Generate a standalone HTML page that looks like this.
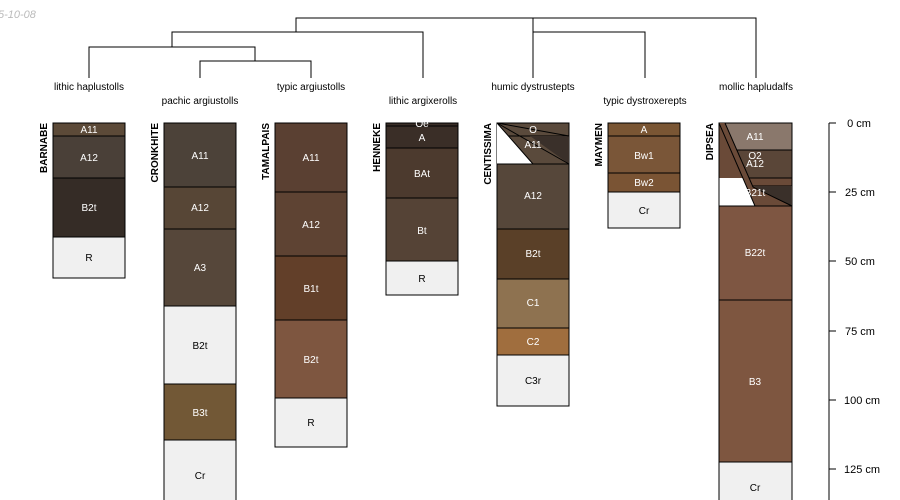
<!DOCTYPE html>
<html><head><meta charset="utf-8"><style>
html,body{margin:0;padding:0;background:#fff;width:900px;height:500px;overflow:hidden}
svg{display:block;font-family:"Liberation Sans",sans-serif}
.h{fill:#fff;font-size:10px;text-anchor:middle}
.k{fill:#000;font-size:10px;text-anchor:middle}
.n{font-size:10px;font-weight:bold;fill:#000}
.t{font-size:10px;fill:#000;text-anchor:middle}
rect{stroke:#000;stroke-width:1}
</style></head><body>
<svg width="900" height="500" viewBox="0 0 900 500">
<text x="-2" y="18" font-size="11" font-style="italic" fill="#bbb">5-10-08</text>
<g stroke="#000" fill="none" stroke-width="1">
<path d="M296 32V18H756V78M533 18V32M172 47V32H423V78M89 78V47H255V61M200 78V61H311V78M533 78V32H645V78"/>
</g>
<text class="t" x="89" y="90">lithic haplustolls</text>
<text class="t" x="200" y="104">pachic argiustolls</text>
<text class="t" x="311" y="90">typic argiustolls</text>
<text class="t" x="423" y="104">lithic argixerolls</text>
<text class="t" x="533" y="90">humic dystrustepts</text>
<text class="t" x="645" y="104">typic dystroxerepts</text>
<text class="t" x="756" y="90">mollic hapludalfs</text>

<!-- BARNABE -->
<text class="n" transform="translate(47,123) rotate(-90)" text-anchor="end">BARNABE</text>
<rect x="53" y="123" width="72" height="13" fill="#5c4a38"/><text class="h" x="89" y="133">A11</text>
<rect x="53" y="136" width="72" height="42" fill="#4a4038"/><text class="h" x="89" y="161">A12</text>
<rect x="53" y="178" width="72" height="59" fill="#352c26"/><text class="h" x="89" y="211">B2t</text>
<rect x="53" y="237" width="72" height="41" fill="#f0f0f0"/><text class="k" x="89" y="261">R</text>

<!-- CRONKHITE -->
<text class="n" transform="translate(158,123) rotate(-90)" text-anchor="end">CRONKHITE</text>
<rect x="164" y="123" width="72" height="64" fill="#4c4239"/><text class="h" x="200" y="159">A11</text>
<rect x="164" y="187" width="72" height="42" fill="#574636"/><text class="h" x="200" y="211">A12</text>
<rect x="164" y="229" width="72" height="77" fill="#56473a"/><text class="h" x="200" y="271">A3</text>
<rect x="164" y="306" width="72" height="78" fill="#f0f0f0"/><text class="k" x="200" y="349">B2t</text>
<rect x="164" y="384" width="72" height="56" fill="#725836"/><text class="h" x="200" y="416">B3t</text>
<rect x="164" y="440" width="72" height="70" fill="#f0f0f0"/><text class="k" x="200" y="479">Cr</text>

<!-- TAMALPAIS -->
<text class="n" transform="translate(269,123) rotate(-90)" text-anchor="end">TAMALPAIS</text>
<rect x="275" y="123" width="72" height="69" fill="#5a4032"/><text class="h" x="311" y="161">A11</text>
<rect x="275" y="192" width="72" height="64" fill="#5e4333"/><text class="h" x="311" y="228">A12</text>
<rect x="275" y="256" width="72" height="64" fill="#623f29"/><text class="h" x="311" y="292">B1t</text>
<rect x="275" y="320" width="72" height="78" fill="#7e5640"/><text class="h" x="311" y="363">B2t</text>
<rect x="275" y="398" width="72" height="49" fill="#f0f0f0"/><text class="k" x="311" y="426">R</text>

<!-- HENNEKE -->
<text class="n" transform="translate(380,123) rotate(-90)" text-anchor="end">HENNEKE</text>
<rect x="386" y="123" width="72" height="3" fill="#3a2e27"/>
<rect x="386" y="126" width="72" height="22" fill="#3a2e27"/><text class="h" x="422" y="141">A</text>
<text class="h" x="422" y="127">Oe</text>
<rect x="386" y="148" width="72" height="50" fill="#4c3a2e"/><text class="h" x="422" y="177">BAt</text>
<rect x="386" y="198" width="72" height="63" fill="#554336"/><text class="h" x="422" y="234">Bt</text>
<rect x="386" y="261" width="72" height="34" fill="#f0f0f0"/><text class="k" x="422" y="282">R</text>

<!-- CENTISSIMA -->
<text class="n" transform="translate(491,123) rotate(-90)" text-anchor="end">CENTISSIMA</text>
<rect x="497" y="123" width="72" height="13" fill="#5a4a3c"/>
<rect x="497" y="136" width="72" height="28" fill="#5a4a3c"/>
<polygon points="530,136 569,136 569,164" fill="#3a302a"/>
<polygon points="497,123 497,164 533,164" fill="#fff"/>
<path d="M497 123L569 136M497 123L569 164M497 123L533 164" stroke="#000" fill="none"/>
<text class="h" x="533" y="133">O</text><text class="h" x="533" y="148">A11</text>
<rect x="497" y="164" width="72" height="65" fill="#56473a"/><text class="h" x="533" y="199">A12</text>
<rect x="497" y="229" width="72" height="50" fill="#5a4028"/><text class="h" x="533" y="257">B2t</text>
<rect x="497" y="279" width="72" height="49" fill="#8e7250"/><text class="h" x="533" y="306">C1</text>
<rect x="497" y="328" width="72" height="27" fill="#a06e3e"/><text class="h" x="533" y="345">C2</text>
<rect x="497" y="355" width="72" height="51" fill="#f0f0f0"/><text class="k" x="533" y="384">C3r</text>

<!-- MAYMEN -->
<text class="n" transform="translate(602,123) rotate(-90)" text-anchor="end">MAYMEN</text>
<rect x="608" y="123" width="72" height="13" fill="#7a5634"/><text class="h" x="644" y="133">A</text>
<rect x="608" y="136" width="72" height="37" fill="#7a5638"/><text class="h" x="644" y="159">Bw1</text>
<rect x="608" y="173" width="72" height="19" fill="#7a5434"/><text class="h" x="644" y="186">Bw2</text>
<rect x="608" y="192" width="72" height="36" fill="#f0f0f0"/><text class="k" x="644" y="214">Cr</text>

<!-- DIPSEA -->
<text class="n" transform="translate(713,123) rotate(-90)" text-anchor="end">DIPSEA</text>
<rect x="719" y="123" width="73" height="27" fill="#8a786c"/>
<rect x="719" y="150" width="73" height="28" fill="#5a4638"/>
<rect x="719" y="178" width="73" height="8" fill="#6a4a38"/>
<rect x="719" y="186" width="73" height="20" fill="#6a4a38"/>
<polygon points="753,186 792,186 792,206" fill="#3a302a"/>
<polygon points="719,123 725,123 753,187 792,206 719,206" fill="#6a4a38"/>
<polygon points="719,178 743,178 755,206 719,206" fill="#fff"/>
<path d="M719 123L755 206M725 123L753 187L792 206" stroke="#000" fill="none"/>
<path d="M719 123V206H792" stroke="#000" fill="none"/>
<text class="h" x="755" y="140">A11</text>
<text class="h" x="755" y="159">O2</text><text class="h" x="755" y="167">A12</text>
<text class="h" x="755" y="196" font-size="9">B21t</text>
<rect x="719" y="206" width="73" height="94" fill="#7e5642"/><text class="h" x="755" y="256" font-size="9">B22t</text>
<rect x="719" y="300" width="73" height="162" fill="#7e5640"/><text class="h" x="755" y="385">B3</text>
<rect x="719" y="462" width="73" height="48" fill="#f0f0f0"/><text class="k" x="755" y="491">Cr</text>

<!-- axis -->
<g stroke="#000"><path d="M829 123V500M829 123H836M829 192H836M829 261H836M829 331H836M829 400H836M829 469H836"/></g>
<g font-size="11" fill="#000" text-anchor="middle">
<text x="859" y="127">0 cm</text><text x="860" y="196">25 cm</text><text x="860" y="265">50 cm</text>
<text x="860" y="335">75 cm</text><text x="862" y="404">100 cm</text><text x="862" y="473">125 cm</text>
</g>
</svg>
</body></html>
